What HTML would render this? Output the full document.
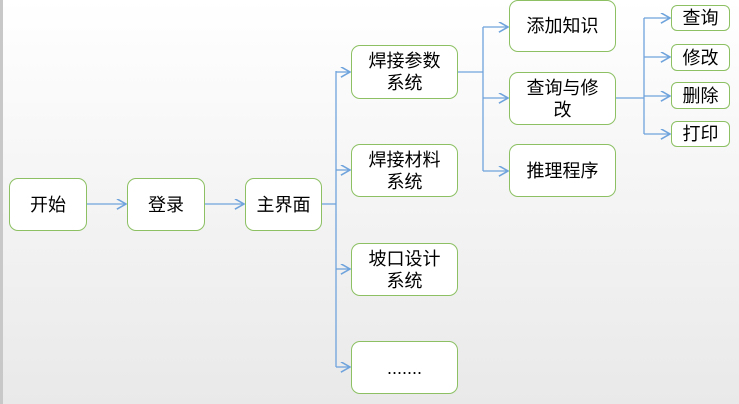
<!DOCTYPE html>
<html><head><meta charset="utf-8"><style>
body{margin:0;width:739px;height:404px;overflow:hidden;background:linear-gradient(#fff,#e9e9e9);font-family:"Liberation Sans","Noto Sans CJK SC",sans-serif;}
.b{position:absolute;box-sizing:border-box;border:1.5px solid #8cc063;border-radius:9px;background:#fff;display:flex;align-items:center;justify-content:center;text-align:center;font-size:18px;line-height:22px;color:#000;}
.s{border-radius:6px;}
</style></head><body>
<div style="position:absolute;left:0;top:0;width:3px;height:404px;background:#c8c8c8"></div>
<svg width="739" height="404" style="position:absolute;left:0;top:0">
<defs><marker id="a" markerWidth="10" markerHeight="10" refX="8" refY="4" orient="auto"><path d="M1,0 L8,4 L1,8" fill="none" stroke="#6fa3dc" stroke-width="1.2"/></marker></defs>
<g stroke="#6fa3dc" stroke-width="1.3" fill="none">
<line x1="87" y1="204" x2="126" y2="204" marker-end="url(#a)"/>
<line x1="205" y1="204" x2="244" y2="204" marker-end="url(#a)"/>
<path d="M322,204 H336"/>
<path d="M336,71 V367"/>
<line x1="336" y1="72" x2="350" y2="72" marker-end="url(#a)"/>
<line x1="336" y1="170" x2="350" y2="170" marker-end="url(#a)"/>
<line x1="336" y1="269" x2="350" y2="269" marker-end="url(#a)"/>
<line x1="336" y1="367" x2="350" y2="367" marker-end="url(#a)"/>
<path d="M458,72 H483 M483,27 V171"/>
<line x1="483" y1="27" x2="508" y2="27" marker-end="url(#a)"/>
<line x1="483" y1="98" x2="508" y2="98" marker-end="url(#a)"/>
<line x1="483" y1="171" x2="508" y2="171" marker-end="url(#a)"/>
<path d="M616,98 H644 M644,18 V134"/>
<line x1="644" y1="18" x2="670" y2="18" marker-end="url(#a)"/>
<line x1="644" y1="57" x2="670" y2="57" marker-end="url(#a)"/>
<line x1="644" y1="96" x2="670" y2="96" marker-end="url(#a)"/>
<line x1="644" y1="134" x2="670" y2="134" marker-end="url(#a)"/>
</g></svg>
<div class="b" style="left:9px;top:178px;width:78px;height:53px">开始</div>
<div class="b" style="left:127px;top:178px;width:78px;height:53px">登录</div>
<div class="b" style="left:245px;top:178px;width:77px;height:53px">主界面</div>
<div class="b" style="left:351px;top:45px;width:107px;height:54px">焊接参数<br>系统</div>
<div class="b" style="left:351px;top:144px;width:107px;height:53px">焊接材料<br>系统</div>
<div class="b" style="left:351px;top:243px;width:107px;height:53px">坡口设计<br>系统</div>
<div class="b" style="left:351px;top:341px;width:107px;height:53px">.......</div>
<div class="b" style="left:509px;top:0px;width:107px;height:52px">添加知识</div>
<div class="b" style="left:509px;top:72px;width:107px;height:53px">查询与修<br>改</div>
<div class="b" style="left:509px;top:144px;width:107px;height:53px">推理程序</div>
<div class="b s" style="left:671px;top:5px;width:59px;height:26px">查询</div>
<div class="b s" style="left:671px;top:44px;width:59px;height:27px">修改</div>
<div class="b s" style="left:671px;top:82px;width:59px;height:27px">删除</div>
<div class="b s" style="left:671px;top:121px;width:59px;height:26px">打印</div>
</body></html>
